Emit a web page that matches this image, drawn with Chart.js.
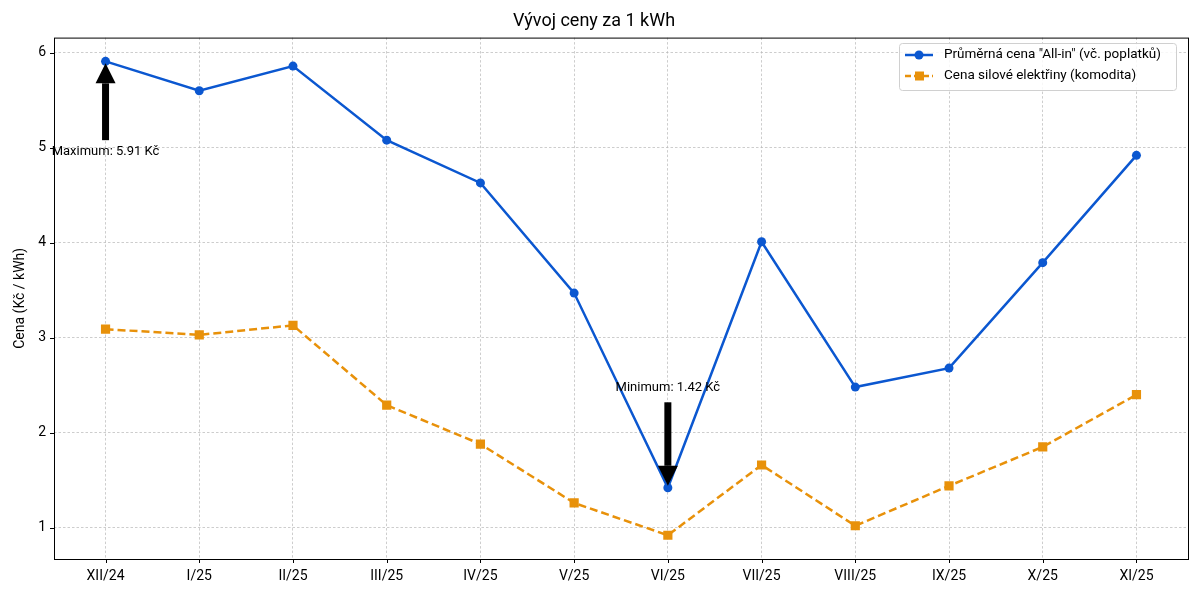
<!DOCTYPE html>
<html lang="cs">
<head>
    <meta charset="UTF-8">
    <title>Vývoj ceny za 1 kWh</title>
    <style>
        body { margin: 0; background: #fff; }
        #wrap { width: 1200px; height: 600px; }
    </style>
</head>
<body>
    <div id="wrap"><canvas id="priceChart"></canvas></div>

    <script src="https://cdn.jsdelivr.net/npm/chart.js"></script>
    <script>
        const months = ['XII/24', 'I/25', 'II/25', 'III/25', 'IV/25', 'V/25', 'VI/25', 'VII/25', 'VIII/25', 'IX/25', 'X/25', 'XI/25'];
        const allIn = [5.91, 5.60, 5.86, 5.08, 4.63, 3.47, 1.42, 4.01, 2.48, 2.68, 3.79, 4.92];
        const commodity = [3.09, 3.03, 3.13, 2.29, 1.88, 1.26, 0.92, 1.66, 1.02, 1.44, 1.85, 2.40];
        const yTicks = [1, 2, 3, 4, 5, 6];

        const FONT = 'Roboto, "DejaVu Sans", sans-serif';
        const BLUE = '#0b57d0';
        const ORANGE = '#e8910a';

        const maxIdx = allIn.indexOf(Math.max(...allIn));
        const minIdx = allIn.indexOf(Math.min(...allIn));

        function arrow(ctx, x, y0, y1) {
            // shaft from y0 to head tip at y1
            const dir = y1 > y0 ? 1 : -1;
            const headLen = 20, headW = 10, shaft = 3.5;
            ctx.fillStyle = '#000';
            ctx.fillRect(x - shaft, Math.min(y0, y1 - dir * headLen), shaft * 2, Math.abs(y1 - dir * headLen - y0));
            ctx.beginPath();
            ctx.moveTo(x, y1);
            ctx.lineTo(x - headW, y1 - dir * headLen);
            ctx.lineTo(x + headW, y1 - dir * headLen);
            ctx.closePath();
            ctx.fill();
        }

        const extras = {
            id: 'extras',
            afterDatasetsDraw(chart) {
                const ctx = chart.ctx;
                const a = chart.chartArea;
                const xs = chart.scales.x, ys = chart.scales.y;
                ctx.save();

                // annotations
                const mx = xs.getPixelForValue(maxIdx);
                arrow(ctx, mx, ys.getPixelForValue(allIn[maxIdx] - 0.83), ys.getPixelForValue(allIn[maxIdx]) + 2);
                const nx = xs.getPixelForValue(minIdx);
                arrow(ctx, nx, ys.getPixelForValue(allIn[minIdx] + 0.9), ys.getPixelForValue(allIn[minIdx]) - 2);
                ctx.font = '13px ' + FONT;
                ctx.fillStyle = '#000';
                ctx.textAlign = 'center';
                ctx.textBaseline = 'middle';
                ctx.fillText('Maximum: ' + allIn[maxIdx].toFixed(2) + ' Kč', mx, ys.getPixelForValue(allIn[maxIdx] - 0.95));
                ctx.fillText('Minimum: ' + allIn[minIdx].toFixed(2) + ' Kč', nx, ys.getPixelForValue(allIn[minIdx] + 1.05));

                // frame and ticks
                ctx.strokeStyle = '#000';
                ctx.lineWidth = 1;
                ctx.strokeRect(a.left + 0.5, a.top + 0.5, a.right - a.left, a.bottom - a.top);
                ctx.beginPath();
                months.forEach((m, i) => {
                    const x = Math.round(xs.getPixelForValue(i)) + 0.5;
                    ctx.moveTo(x, a.bottom); ctx.lineTo(x, a.bottom + 4);
                });
                yTicks.forEach(v => {
                    const y = Math.round(ys.getPixelForValue(v)) + 0.5;
                    ctx.moveTo(a.left, y); ctx.lineTo(a.left - 4, y);
                });
                ctx.stroke();

                // legend
                const lx = 899, ly = 43, lw = 277, lh = 47;
                ctx.fillStyle = 'rgba(255,255,255,0.85)';
                ctx.strokeStyle = '#d0d0d0';
                ctx.beginPath();
                ctx.roundRect(lx + 0.5, ly + 0.5, lw, lh, 3);
                ctx.fill();
                ctx.stroke();
                const items = [
                    { label: chart.data.datasets[0].label, color: BLUE, dash: [], style: 'circle' },
                    { label: chart.data.datasets[1].label, color: ORANGE, dash: [6, 3], style: 'rect' }
                ];
                items.forEach((it, k) => {
                    const y = ly + 12 + k * 21;
                    ctx.strokeStyle = it.color;
                    ctx.lineWidth = 2.5;
                    ctx.setLineDash(it.dash);
                    ctx.beginPath();
                    ctx.moveTo(lx + 6, y); ctx.lineTo(lx + 34, y);
                    ctx.stroke();
                    ctx.setLineDash([]);
                    ctx.fillStyle = it.color;
                    if (it.style === 'circle') {
                        ctx.beginPath(); ctx.arc(lx + 20, y, 4.5, 0, Math.PI * 2); ctx.fill();
                    } else {
                        ctx.fillRect(lx + 16, y - 4.5, 9, 9);
                    }
                    ctx.fillStyle = '#000';
                    ctx.font = '13.5px ' + FONT;
                    ctx.textAlign = 'left';
                    ctx.fillText(it.label, lx + 45, y);
                });
                ctx.restore();
            }
        };

        new Chart(document.getElementById('priceChart'), {
            type: 'line',
            data: {
                datasets: [
                    {
                        label: 'Průměrná cena "All-in" (vč. poplatků)',
                        data: allIn.map((v, i) => ({ x: i, y: v })),
                        borderColor: BLUE, backgroundColor: BLUE,
                        borderWidth: 2.5, pointRadius: 4.5, pointStyle: 'circle',
                        pointBorderWidth: 0, tension: 0
                    },
                    {
                        label: 'Cena silové elektřiny (komodita)',
                        data: commodity.map((v, i) => ({ x: i, y: v })),
                        borderColor: ORANGE, backgroundColor: ORANGE,
                        borderWidth: 2.5, borderDash: [8, 4], pointRadius: 6.5, pointStyle: 'rect',
                        pointBorderWidth: 0, tension: 0
                    }
                ]
            },
            options: {
                responsive: true,
                maintainAspectRatio: false,
                animation: false,
                layout: { padding: { right: 12, left: 0, bottom: 0 } },
                plugins: {
                    legend: { display: false },
                    tooltip: { enabled: false },
                    title: {
                        display: true,
                        text: 'Vývoj ceny za 1 kWh',
                        color: '#000',
                        font: { family: FONT, size: 18, weight: 'normal' },
                        padding: { top: 11, bottom: 5 }
                    }
                },
                scales: {
                    x: {
                        type: 'linear',
                        min: -0.55, max: 11.55,
                        afterBuildTicks: s => { s.ticks = months.map((m, i) => ({ value: i })); },
                        afterFit: s => { s.height = 41; },
                        ticks: {
                            callback: v => months[v],
                            color: '#000', padding: 9,
                            font: { family: FONT, size: 14 },
                            maxRotation: 0, autoSkip: false
                        },
                        grid: { color: '#b8b8b8', lineWidth: 0.7, drawTicks: false },
                        border: { display: false, dash: [2.5, 2] }
                    },
                    y: {
                        min: 0.67, max: 6.16,
                        afterBuildTicks: s => { s.ticks = yTicks.map(v => ({ value: v })); },
                        afterFit: s => { s.width = 54; },
                        title: {
                            display: true, text: 'Cena (Kč / kWh)', color: '#000',
                            font: { family: FONT, size: 14 },
                            padding: { top: 12, bottom: 0 }
                        },
                        ticks: {
                            color: '#000', padding: 8,
                            font: { family: FONT, size: 14 }
                        },
                        grid: { color: '#b8b8b8', lineWidth: 0.7, drawTicks: false },
                        border: { display: false, dash: [2.5, 2] }
                    }
                }
            },
            plugins: [extras]
        });
    </script>
</body>
</html>
